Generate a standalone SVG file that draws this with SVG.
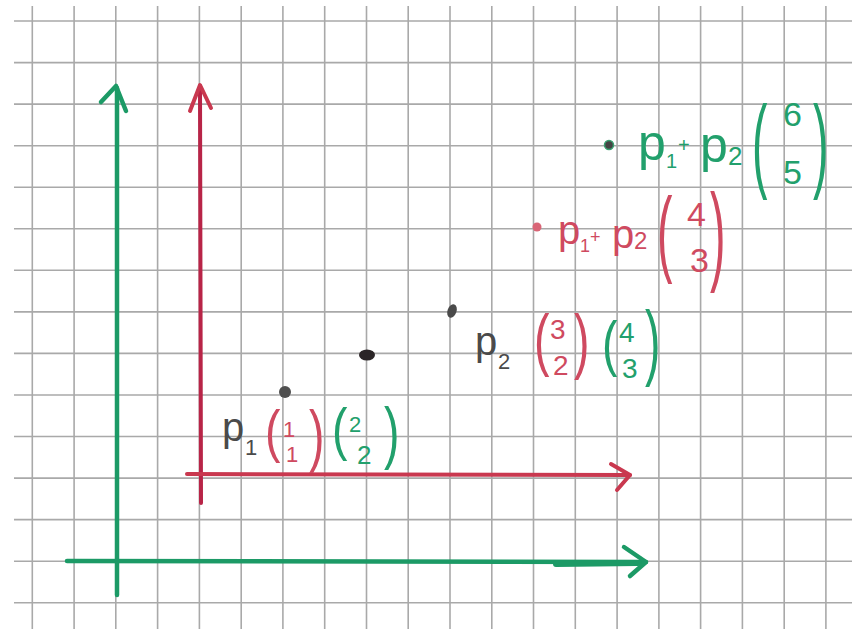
<svg xmlns="http://www.w3.org/2000/svg" width="855" height="629" viewBox="0 0 855 629">
<style>
.grid line{stroke:#a9a9a9;stroke-width:1.6}
.g{stroke:#1c9a66;fill:none;stroke-width:4.5;stroke-linecap:round;stroke-linejoin:round}
.r{stroke:#c9384f;fill:none;stroke-width:4;stroke-linecap:round;stroke-linejoin:round}
text{font-family:"Liberation Sans",Arial,sans-serif}
.tg{fill:#22a06c}
.tr{fill:#cf4a60}
.tk{fill:#4a4a4a}
.par{font-size:58px}
</style>
<rect width="855" height="629" fill="#ffffff"/>
<g id="grid" class="grid">
<line x1="32.3" y1="6" x2="32.3" y2="629"/>
<line x1="74.1" y1="6" x2="74.1" y2="629"/>
<line x1="115.8" y1="6" x2="115.8" y2="629"/>
<line x1="157.6" y1="6" x2="157.6" y2="629"/>
<line x1="199.4" y1="6" x2="199.4" y2="629"/>
<line x1="241.2" y1="6" x2="241.2" y2="629"/>
<line x1="282.9" y1="6" x2="282.9" y2="629"/>
<line x1="324.7" y1="6" x2="324.7" y2="629"/>
<line x1="366.5" y1="6" x2="366.5" y2="629"/>
<line x1="408.2" y1="6" x2="408.2" y2="629"/>
<line x1="450" y1="6" x2="450" y2="629"/>
<line x1="491.8" y1="6" x2="491.8" y2="629"/>
<line x1="533.5" y1="6" x2="533.5" y2="629"/>
<line x1="575.3" y1="6" x2="575.3" y2="629"/>
<line x1="617.1" y1="6" x2="617.1" y2="629"/>
<line x1="658.9" y1="6" x2="658.9" y2="629"/>
<line x1="700.6" y1="6" x2="700.6" y2="629"/>
<line x1="742.4" y1="6" x2="742.4" y2="629"/>
<line x1="784.2" y1="6" x2="784.2" y2="629"/>
<line x1="825.9" y1="6" x2="825.9" y2="629"/>
<line x1="14" y1="21" x2="852" y2="21"/>
<line x1="14" y1="62.6" x2="852" y2="62.6"/>
<line x1="14" y1="104.1" x2="852" y2="104.1"/>
<line x1="14" y1="145.7" x2="852" y2="145.7"/>
<line x1="14" y1="187.2" x2="852" y2="187.2"/>
<line x1="14" y1="228.8" x2="852" y2="228.8"/>
<line x1="14" y1="270.3" x2="852" y2="270.3"/>
<line x1="14" y1="311.9" x2="852" y2="311.9"/>
<line x1="14" y1="353.4" x2="852" y2="353.4"/>
<line x1="14" y1="395" x2="852" y2="395"/>
<line x1="14" y1="436.5" x2="852" y2="436.5"/>
<line x1="14" y1="478.1" x2="852" y2="478.1"/>
<line x1="14" y1="519.6" x2="852" y2="519.6"/>
<line x1="14" y1="561.2" x2="852" y2="561.2"/>
<line x1="14" y1="602.7" x2="852" y2="602.7"/>
</g>
<g id="connectors">
<g id="axes-green">
<path class="g" d="M117 595 L117 88"/>
<path class="g" d="M101 102 L116 86 L126 111"/>
<path class="g" d="M67 561 L646 562"/>
<path class="g" d="M556 564 L638 563" style="stroke-width:6"/>
<path class="g" d="M624 547 L646 562 L630 576"/>
</g>
<g id="axes-red">
<path class="r" d="M201 503 L200 86" style="stroke:#b82447"/>
<path class="r" d="M190 111 L200 85 L211 108"/>
<path class="r" d="M187 474 L630 475"/>
<path class="r" d="M611 464 L630 475 L617 490"/>
</g>
</g>
<g id="points">
<circle id="pt-p1" cx="285" cy="392" r="6" fill="#4f4f4f"/>
<ellipse id="pt-mid" cx="367" cy="355" rx="8" ry="5.5" fill="#2b2527"/>
<ellipse id="pt-p2" cx="452" cy="311" rx="4.5" ry="7" transform="rotate(20 452 311)" fill="#4a4a4a"/>
<circle id="pt-sum-red" cx="537" cy="227" r="4.5" fill="#d96576"/>
<circle id="pt-sum-green" cx="609" cy="145" r="4.5" fill="#444" stroke="#3aa070" stroke-width="1.5"/>
</g>
<g id="label-p1">
<text class="tk" x="222" y="441" font-size="40">p</text>
<text class="tk" x="245" y="455" font-size="22">1</text>
<text class="tr par" transform="translate(265,451) scale(0.8,1)">(</text>
<text class="tr" x="283" y="437" font-size="22">1</text>
<text class="tr" x="286" y="462" font-size="22">1</text>
<text class="tr par" transform="translate(309,459) scale(0.8,1.17)">)</text>
<text class="tg par" transform="translate(332,449) scale(0.8,1)">(</text>
<text class="tg" x="349" y="432" font-size="22">2</text>
<text class="tg" x="357" y="464" font-size="26">2</text>
<text class="tg par" transform="translate(384,456) scale(0.8,1.17)">)</text>
</g>
<g id="label-p2">
<text class="tk" x="475" y="355" font-size="40">p</text>
<text class="tk" x="498" y="369" font-size="22">2</text>
<text class="tr par" transform="translate(534,363) scale(0.8,1.19)">(</text>
<text class="tr" x="550" y="339" font-size="28">3</text>
<text class="tr" x="553" y="375" font-size="28">2</text>
<text class="tr par" transform="translate(574,365) scale(0.8,1.24)">)</text>
<text class="tg par" transform="translate(602,364) scale(0.8,1.05)">(</text>
<text class="tg" x="619" y="342" font-size="28">4</text>
<text class="tg" x="622" y="378" font-size="28">3</text>
<text class="tg par" transform="translate(645,370) scale(0.8,1.43)">)</text>
</g>
<g id="label-sum-red">
<text class="tr" x="558" y="244" font-size="40">p</text>
<text class="tr" x="580" y="252" font-size="18">1</text>
<text class="tr" x="590" y="243" font-size="18">+</text>
<text class="tr" x="612" y="248" font-size="40">p</text>
<text class="tr" x="634" y="249" font-size="24">2</text>
<text class="tr par" transform="translate(657,263.5) scale(0.8,1.63)">(</text>
<text class="tr" x="687" y="226" font-size="34">4</text>
<text class="tr" x="690" y="272" font-size="34">3</text>
<text class="tr par" transform="translate(710,270) scale(0.8,1.9)">)</text>
</g>
<g id="label-sum-green">
<text class="tg" x="638" y="160" font-size="50">p</text>
<text class="tg" x="666" y="168" font-size="20">1</text>
<text class="tg" x="678" y="152" font-size="20">+</text>
<text class="tg" x="700" y="162" font-size="50">p</text>
<text class="tg" x="728" y="165" font-size="26">2</text>
<text class="tg par" transform="translate(752,178) scale(0.8,1.8)">(</text>
<text class="tg" x="783" y="126" font-size="34">6</text>
<text class="tg" x="783" y="184" font-size="34">5</text>
<text class="tg par" transform="translate(813,178) scale(0.8,1.8)">)</text>
</g>
</svg>
